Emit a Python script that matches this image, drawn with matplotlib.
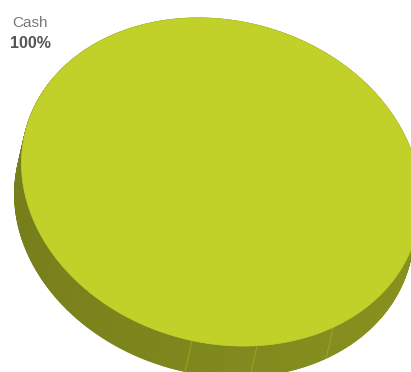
import numpy as np
import matplotlib
matplotlib.use("Agg")
import matplotlib.pyplot as plt
from matplotlib.patches import Polygon

# ---- data ----
categories = ["Cash"]
values = [100]
top_colors = ["#c2d02a"]

# ---- geometry (pixel space) ----
W, H = 411, 372
cx, cy = 221, 182
a, b = 202, 161
theta = np.deg2rad(15)
dx, dy = -7, 31  # extrusion offset

def ell(t, ox=0.0, oy=0.0):
    x = cx + a * np.cos(t) * np.cos(theta) - b * np.sin(t) * np.sin(theta) + ox
    y = cy + a * np.cos(t) * np.sin(theta) + b * np.sin(t) * np.cos(theta) + oy
    return x, y

fig = plt.figure(figsize=(W / 100, H / 100), dpi=100)
ax = fig.add_axes([0, 0, 1, 1])
ax.set_xlim(0, W)
ax.set_ylim(H, 0)
ax.axis("off")

def shade(hex_color, f):
    c = np.array(matplotlib.colors.to_rgb(hex_color))
    return tuple(np.clip(c * f, 0, 1))

total = float(sum(values))
start = 0.0
for val, col in zip(values, top_colors):
    frac = val / total
    t0, t1 = start, start + frac * 2 * np.pi
    start = t1
    ts = np.linspace(t0, t1, 721)
    # side facets
    n = len(ts) - 1
    for i in range(n):
        ta, tb = ts[i], ts[i + 1]
        xa, ya = ell(ta)
        xb, yb = ell(tb)
        xa2, ya2 = ell(ta, dx, dy)
        xb2, yb2 = ell(tb, dx, dy)
        xm = (xa + xb) / 2
        f = 0.655 + 0.045 * (xm - cx) / a
        poly = Polygon([(xa, ya), (xb, yb), (xb2, yb2), (xa2, ya2)], closed=True,
                       facecolor=shade(col, f), edgecolor=shade(col, f), lw=0.6)
        ax.add_patch(poly)
    # faint seams on the front side
    for sx in [192, 257, 333]:
        tt = np.linspace(0, np.pi, 2000)
        xx, yy = ell(tt)
        j = np.argmin(np.abs(xx - sx))
        x1, y1 = xx[j], yy[j]
        ax.plot([x1, x1 + dx], [y1, y1 + dy], color=shade(col, 0.95), lw=0.6, alpha=0.5)
    # top face
    xt, yt = ell(ts)
    ax.add_patch(Polygon(np.column_stack([xt, yt]), closed=True,
                         facecolor=col, edgecolor=col, lw=0.5, zorder=5))

# ---- labels ----
plt.rcParams["font.family"] = ["Liberation Sans", "DejaVu Sans"]
ax.text(30, 27, categories[0], ha="center", va="baseline", fontsize=11,
        color="#777777", family=["Liberation Sans", "DejaVu Sans"], zorder=10)
ax.text(30, 48, f"{values[0] / total * 100:.0f}%", ha="center", va="baseline",
        fontsize=11.5, fontweight="bold", color="#555555",
        family=["Liberation Sans", "DejaVu Sans"], zorder=10)

fig.savefig("out.png", dpi=100)
